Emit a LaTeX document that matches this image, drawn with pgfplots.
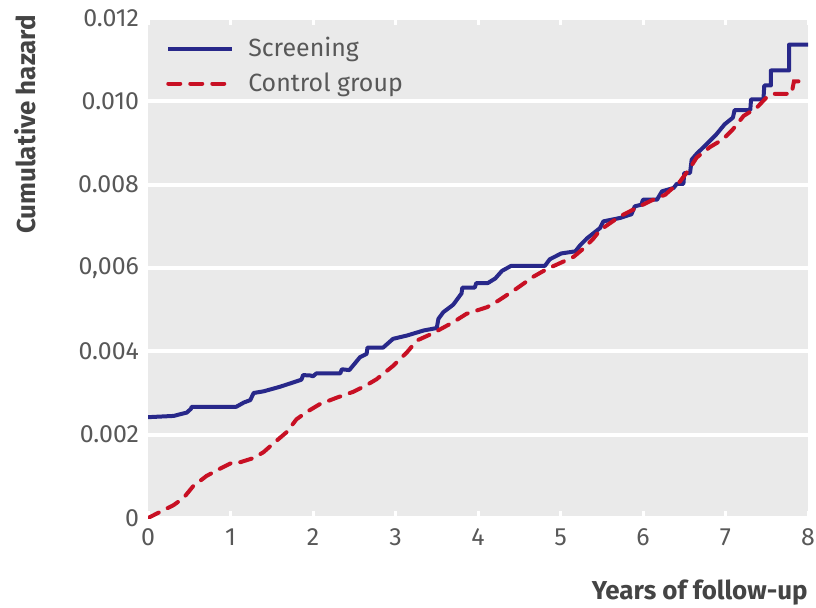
\documentclass[border=0pt]{standalone}
\usepackage{pgfplots}
\pgfplotsset{compat=1.18}
\usepackage{fontspec}
\setmainfont{Fira Sans}
\definecolor{bggray}{RGB}{234,234,234}
\definecolor{txtgray}{RGB}{88,88,88}
\definecolor{lblgray}{RGB}{68,68,68}
\definecolor{navy}{RGB}{40,40,138}
\definecolor{ctrlred}{RGB}{200,16,36}

\pgfplotstableread{
x y
0.00 0.00242
0.31 0.00245
0.47 0.00253
0.52 0.00262
0.53 0.00267
1.07 0.00267
1.16 0.00277
1.24 0.00283
1.28 0.00300
1.40 0.00304
1.60 0.00315
1.80 0.00328
1.86 0.00332
1.88 0.00343
1.97 0.00342
2.00 0.00340
2.04 0.00347
2.33 0.00347
2.35 0.00357
2.44 0.00355
2.57 0.00386
2.65 0.00394
2.66 0.00409
2.85 0.00409
2.97 0.00430
3.14 0.00438
3.34 0.00450
3.50 0.00456
3.52 0.00478
3.58 0.00494
3.70 0.00512
3.80 0.00539
3.81 0.00553
3.96 0.00553
3.98 0.00564
4.12 0.00564
4.21 0.00575
4.29 0.00593
4.40 0.00605
4.81 0.00605
4.87 0.00621
5.01 0.00635
5.18 0.00640
5.24 0.00655
5.32 0.00671
5.48 0.00696
5.52 0.00712
5.72 0.00720
5.86 0.00729
5.90 0.00748
5.98 0.00752
6.00 0.00764
6.17 0.00764
6.23 0.00784
6.37 0.00792
6.41 0.00802
6.49 0.00802
6.50 0.00828
6.57 0.00828
6.59 0.00860
6.65 0.00874
6.77 0.00897
6.89 0.00921
6.99 0.00945
7.09 0.00961
7.11 0.00979
7.30 0.00979
7.31 0.01005
7.46 0.01005
7.47 0.01038
7.55 0.01038
7.55 0.01074
7.77 0.01074
7.77 0.01136
8.00 0.01136
}\screening

\pgfplotstableread{
x y
0.00 0.00000
0.31 0.00031
0.43 0.00048
0.55 0.00077
0.71 0.00101
0.87 0.00118
1.03 0.00134
1.12 0.00134
1.28 0.00144
1.40 0.00158
1.52 0.00179
1.68 0.00206
1.80 0.00237
1.92 0.00254
2.08 0.00273
2.29 0.00289
2.49 0.00303
2.65 0.00319
2.77 0.00333
2.97 0.00365
3.14 0.00398
3.26 0.00426
3.46 0.00444
3.70 0.00470
3.86 0.00490
4.11 0.00506
4.25 0.00522
4.47 0.00551
4.67 0.00579
4.83 0.00597
5.03 0.00615
5.16 0.00627
5.28 0.00647
5.40 0.00671
5.48 0.00691
5.72 0.00724
5.88 0.00740
6.08 0.00760
6.27 0.00776
6.45 0.00808
6.57 0.00840
6.65 0.00865
6.81 0.00890
6.97 0.00909
7.09 0.00933
7.22 0.00965
7.38 0.00985
7.50 0.01010
7.58 0.01018
7.80 0.01018
7.83 0.01048
7.97 0.01048
}\control

\begin{document}
\begin{tikzpicture}
\begin{axis}[
  name=ax,
  width=330bp, height=250bp, scale only axis,
  xmin=0, xmax=8, ymin=0, ymax=0.012,
  axis background/.style={fill=bggray},
  axis line style={draw=none},
  xtick={0,1,...,8},
  ytick={0,0.002,0.004,0.006,0.008,0.010,0.012},
  yticklabels={0,0.002,0.004,{0,006},0.008,0.010,0.012},
  scaled y ticks=false,
  ymajorgrids,
  major grid style={white, line width=2bp},
  tick align=inside,
  major tick length=3.5bp,
  xtick style={white, line width=1.5bp},
  ytick style={draw=none},
  tick label style={font=\fontsize{12.5}{14}\selectfont, text=txtgray},
  /pgf/number format/assume math mode=true,
  xticklabel style={yshift=-2bp, inner xsep=0pt},
  yticklabel style={xshift=-1bp},
  legend style={
    at={(axis description cs:0.018,0.978)}, anchor=north west,
    draw=none, fill=none,
    font=\fontsize{12.5}{14}\selectfont, text=txtgray,
    row sep=2.5bp,
  },
  legend cell align=left,
  legend image code/.code={\draw[#1] (0bp,0bp) -- (32bp,0bp); \path (37bp,0bp);},
]
\addplot[navy, line width=2bp, line join=round] table {\screening};
\addlegendentry{Screening}
\addplot[ctrlred, line width=2bp, line cap=round, dash pattern=on 6bp off 5bp] table {\control};
\addlegendentry{Control group}
\end{axis}
\node[rotate=90, anchor=east, font=\fontsize{13}{15}\selectfont\bfseries, text=lblgray]
  at ([xshift=-61.5bp, yshift=5bp]ax.north west) {Cumulative hazard};
\node[anchor=east, font=\fontsize{13}{15}\selectfont\bfseries, text=lblgray, inner sep=0pt]
  at ([yshift=-37.5bp]ax.south east) {Years of follow-up};
\path ([xshift=-74bp, yshift=-44.5bp]ax.south west) rectangle ([xshift=4bp, yshift=9bp]ax.north east);
\end{tikzpicture}
\end{document}
